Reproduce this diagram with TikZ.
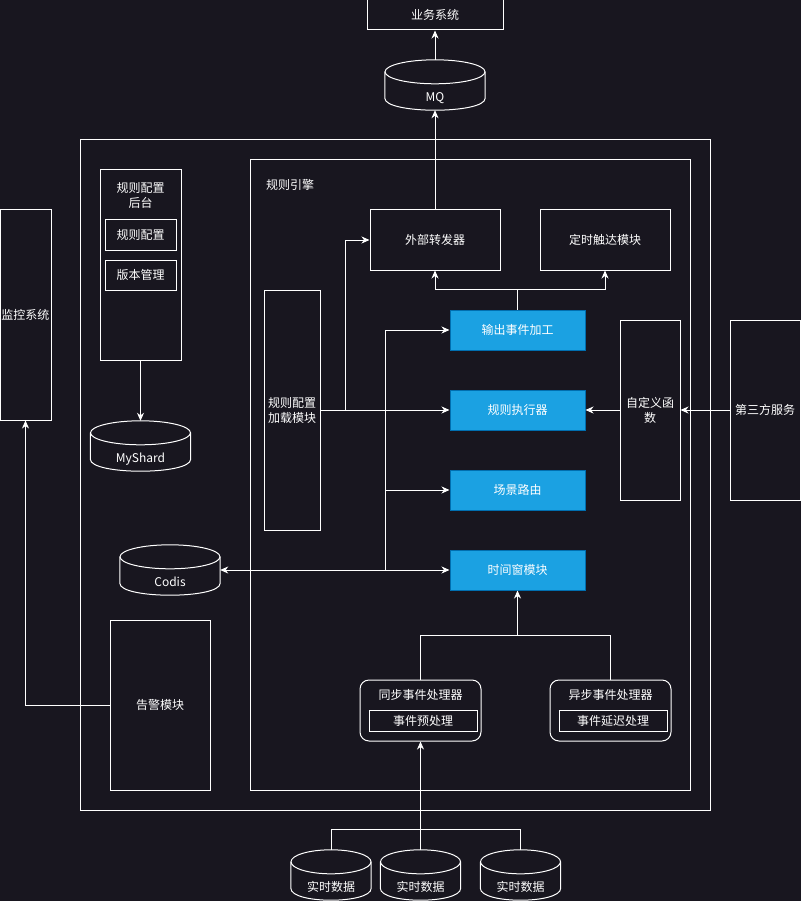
\documentclass[tikz,border=0pt]{standalone}
\usepackage{fontspec}
\setmainfont{Noto Sans CJK SC}
\usetikzlibrary{arrows.meta,positioning,calc}
\definecolor{bgdark}{RGB}{24,22,31}
\definecolor{modfill}{HTML}{1BA1E2}
\definecolor{modline}{HTML}{006EAF}

\begin{document}
\begin{tikzpicture}[x=1pt,y=-1pt,font=\fontsize{12}{15}\selectfont,
  >={Stealth[length=8pt,width=7pt,inset=2.5pt]},
  wire/.style={draw=white,line width=1pt},
  arr/.style={wire,->},
  arrboth/.style={wire,<->},
  blk/.style={draw=white,line width=1pt,text=white,align=center,inner sep=0pt},
  mod/.style={blk,draw=modline,fill=modfill,minimum width=135pt,minimum height=40pt},
  proc/.style={blk,rounded corners=9pt,minimum width=121pt,minimum height=61pt},
  cyl/.style={inner sep=0pt,text=white,minimum height=50pt,text height=35pt,text depth=2pt},
  lbl/.style={text=white,inner sep=0pt,align=center}]
\fill[bgdark] (0,0) rectangle (801,901);
\useasboundingbox (0,0) rectangle (801,901);

% containers
\node[blk,minimum width=630pt,minimum height=670pt] (outer) at (395,475) {};
\node[blk,minimum width=440pt,minimum height=630pt] (engine) at (470,475) {};
\node[lbl] (engineT) at (290,185) {规则引擎};

% business system and MQ
\node[blk,minimum width=136pt,minimum height=30pt] (biz) at (435,15) {业务系统};
\node[cyl,minimum width=100pt] (mq) at (435,85) {MQ};

% left column
\node[blk,minimum width=81pt,minimum height=190pt] (admin) at (140.5,265) {};
\node[lbl] (adminT) at (140.5,195) {规则配置\\后台};
\node[blk,minimum width=71pt,minimum height=30pt] (cfg) at (140.5,235) {规则配置};
\node[blk,minimum width=71pt,minimum height=30pt,below=9pt of cfg] (ver) {版本管理};
\node[cyl,minimum width=100pt] (myshard) at (140.5,446) {MyShard};
\node[cyl,minimum width=100pt] (codis) at (170,570) {Codis};
\node[blk,minimum width=100pt,minimum height=170pt] (alarm) at (160,705) {告警模块};
\node[blk,minimum width=51pt,minimum height=210pt] (mon) at (25.5,315) {监控系统};

% rule engine
\node[blk,minimum width=56pt,minimum height=240pt] (loader) at (292,410) {规则配置\\加载模块};
\node[blk,minimum width=130pt,minimum height=60pt] (fwd) at (435,240) {外部转发器};
\node[blk,minimum width=130pt,minimum height=60pt,right=39pt of fwd] (timer) {定时触达模块};
\node[mod] (out) at (517.5,330) {输出事件加工};
\node[mod,below=39pt of out] (exec) {规则执行器};
\node[mod,below=39pt of exec] (route) {场景路由};
\node[mod,below=39pt of route] (win) {时间窗模块};
\node[blk,minimum width=60pt,minimum height=180pt] (udf) at (650,410) {自定义函\\数};
\node[blk,minimum width=70pt,minimum height=180pt] (third) at (765,410) {第三方服务};

% event handlers
\node[proc] (sync) at (420.5,710.5) {};
\node[lbl] (syncT) at (420.5,695) {同步事件处理器};
\node[blk,minimum width=108pt,minimum height=21pt] (pre) at (423,720.5) {事件预处理};
\node[proc] (async) at (610.5,710.5) {};
\node[lbl] (asyncT) at (610.5,695) {异步事件处理器};
\node[blk,minimum width=108pt,minimum height=21pt] (delay) at (613,720.5) {事件延迟处理};

% real-time data
\node[cyl,minimum width=80pt] (rtA) at (331,875) {实时数据};
\node[cyl,minimum width=80pt] (rtB) at (420.5,875) {实时数据};
\node[cyl,minimum width=80pt] (rtC) at (520.5,875) {实时数据};

% cylinder outlines
\foreach \cy/\rx in {mq/50,myshard/50,codis/50,rtA/40,rtB/40,rtC/40}{
  \draw[wire] ($(\cy.north west)+(0,12)$) -- ($(\cy.south west)+(0,-12)$)
    .. controls ($(\cy.south west)+(0,4)$) and ($(\cy.south east)+(0,4)$) .. ($(\cy.south east)+(0,-12)$)
    -- ($(\cy.north east)+(0,12)$);
  \draw[wire] ($(\cy.north)+(0,12)$) ellipse[x radius=\rx, y radius=12];
}

% connectors
\draw[arr] (mq.north) -- (biz.south);
\draw[arr] (fwd.north) -- (mq.south);
\draw[arr] (out.north) -- ++(0,-20) -| (fwd.south);
\draw[arr] (out.north) -- ++(0,-20) -| (timer.south);
\draw[arr] (loader.east) -- (exec.west);
\draw[arr] (loader.east) -- ++(25,0) |- (fwd.west);
\coordinate (cbus) at (385,570);
\draw[arrboth] (codis.east) -- (win.west);
\draw[arr] (cbus) |- (out.west);
\draw[arr] (cbus) |- (route.west);
\draw[arr] (udf.west) -- (exec.east);
\draw[arr] (third.west) -- (udf.east);
\coordinate (merge) at (517.5,635);
\draw[wire] (sync.north) |- (merge);
\draw[wire] (async.north) |- (merge);
\draw[arr] (merge) -- (win.south);
\draw[wire] (rtA.north) -- ++(0,-20) -| (rtC.north);
\draw[arr] (rtB.north) -- (sync.south);
\draw[arr] (admin.south) -- (myshard.north);
\draw[arr] (alarm.west) -| (mon.south);
\end{tikzpicture}
\end{document}
